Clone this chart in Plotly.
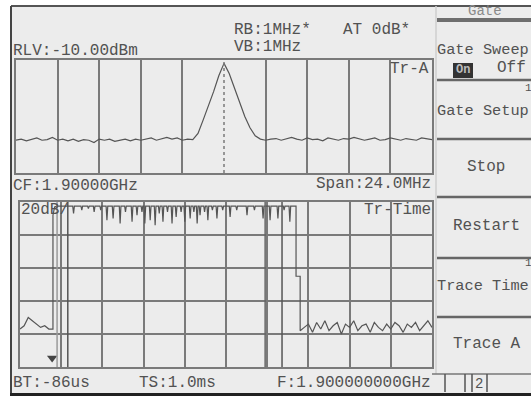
import plotly.graph_objects as go

W, H = 531, 396

# ---------------- data ----------------
# upper trace: spectrum, frequency offset from CF (MHz), span 24 MHz
freq_offset_mhz = [round(-12 + 0.3 * i, 1) for i in range(81)]
upper_level_dbm = [-81, -80, -81.5, -80, -79, -81, -80.5, -78.5, -81, -80, -81.5, -80, -82, -80.5,
                   -81, -83, -80, -81, -80, -82, -81, -80, -81.5, -80, -81, -80, -79, -81, -80,
                   -78.5, -80, -79, -81, -80,
                   -80.5, -75, -63, -51, -38, -24, -13, -22, -35, -48, -60, -70, -77, -80,
                   -81, -80, -79.5, -81, -80, -78.5, -80, -81, -79, -80.5, -80, -81.5, -79, -80,
                   -81, -79.5, -80, -78.5, -80, -81, -80, -79, -81, -80.5, -79, -80, -81, -79.5,
                   -80, -81, -79, -80, -80.5]

# lower trace: zero-span time trace (us)
pre_burst_us = [-86, -76, -66, -56, -46, -36, -26, -16, -6, -6, -2, 4]
pre_burst_dbm = [-87, -85, -80, -82, -84, -86, -85, -87, -87, -18, -13, -12.5]
burst_level_dbm = -12.5
burst_spike_us = [44, 64, 80, 94, 110, 125, 140, 157, 170, 186, 198, 210, 217, 230, 242, 252,
                  261, 272, 283, 293, 305, 314, 327, 336, 344, 351, 362, 370, 381, 392, 406,
                  424, 440, 465, 483, 504, 521, 540, 555, 569]
burst_spike_dbm = [-17, -15, -14, -16, -15, -21, -20, -23, -16, -22, -18, -16, -23, -21, -24, -17,
                   -22, -16, -23, -19, -16, -22, -20, -16, -23, -18, -16, -21, -15, -20, -15,
                   -19, -15, -18, -15, -20, -21, -20, -15, -22]
post_burst_us = [584, 584, 594, 594] + list(range(604, 915, 10))
post_burst_dbm = ([-12.5, -55, -55, -88]
                  + [-86, -84, -89, -83, -87, -82, -88, -85, -83, -90, -84, -86, -82, -88, -85,
                     -84, -89, -83, -86, -88, -84, -87, -83, -85, -89, -84, -86, -83, -88, -85,
                     -82, -86])
gate_line_us = [4, 30, 509, 550]
gate_line_col = ["#9a9a9a", "#555555", "#666666", "#555555"]
trigger_marker_us = [-8]
trigger_marker_dbm = [-104.5]

upper_x_range = [-12, 12]
upper_gridvals = [-9.6, -7.2, -4.8, -2.4, 2.4, 4.8, 7.2, 9.6]
center_offset = 0
lower_x_range = [-86, 914]
y_range = [-110, -10]

# texts: (text, x_px, y_px, anchor, size)
screen_texts = [
    ("RB:1MHz*", 232, 30, "left", 16),
    ("AT 0dB*", 341, 30, "left", 16),
    ("VB:1MHz", 232, 47, "left", 16),
    ("RLV:-10.00dBm", 11, 51, "left", 16),
    ("Tr-A", 431, 69, "right", 16),
    ("CF:1.90000GHz", 11, 186, "left", 16),
    ("Span:24.0MHz", 433, 184, "right", 16),
    ("20dB/", 19, 210, "left", 16),
    ("Tr-Time", 433, 210, "right", 16),
    ("BT:-86us", 11, 383, "left", 16),
    ("TS:1.0ms", 137, 383, "left", 16),
    ("F:1.900000000GHz", 433, 383, "right", 16),
    ("Gate Sweep", 435, 50, "left", 15.3),
    ("Off", 495, 68, "left", 16),
    ("Gate Setup", 435, 111, "left", 15.3),
    ("Stop", 465, 167, "left", 16),
    ("Restart", 451, 226, "left", 16),
    ("Trace Time", 435, 286, "left", 15.3),
    ("Trace A", 451, 344, "left", 16),
]
menu_sep_y = [80, 139, 197, 258, 317]

TXT = "#525252"
GRID = "#7a7a7a"
BG = "#ececec"
FONT = "Liberation Mono"


def X(px):
    return px / W


def Y(py):
    return 1 - py / H


# assemble time trace from the read-off pieces
lower_time_us = list(pre_burst_us)
lower_level_dbm = list(pre_burst_dbm)
for t, d in zip(burst_spike_us, burst_spike_dbm):
    lower_time_us += [t - 2, t, t + 2]
    lower_level_dbm += [burst_level_dbm, d, burst_level_dbm]
lower_time_us += post_burst_us
lower_level_dbm += post_burst_dbm

fig = go.Figure()

fig.add_trace(go.Scatter(x=freq_offset_mhz, y=upper_level_dbm, mode="lines",
                         line=dict(color="#555555", width=1.2), xaxis="x", yaxis="y",
                         hoverinfo="skip"))
fig.add_trace(go.Scatter(x=lower_time_us, y=lower_level_dbm, mode="lines",
                         line=dict(color="#555555", width=1.2), xaxis="x2", yaxis="y2",
                         hoverinfo="skip"))
fig.add_trace(go.Scatter(x=trigger_marker_us, y=trigger_marker_dbm, mode="markers",
                         marker=dict(symbol="triangle-down", size=9, color="#444444"),
                         xaxis="x2", yaxis="y2", hoverinfo="skip"))

axis_common = dict(showticklabels=False, ticks="", zeroline=False, showline=True, mirror=True,
                   linecolor=GRID, linewidth=2, gridcolor=GRID, gridwidth=1.5, fixedrange=True)

fig.update_layout(
    width=W, height=H, margin=dict(l=0, r=0, t=0, b=0),
    paper_bgcolor=BG, plot_bgcolor=BG, showlegend=False,
    xaxis=dict(domain=[X(16), X(432)], range=upper_x_range, tickmode="array",
               tickvals=upper_gridvals, showgrid=True, anchor="y", **axis_common),
    yaxis=dict(domain=[Y(173), Y(60)], range=y_range, showgrid=False, anchor="x", **axis_common),
    xaxis2=dict(domain=[X(20), X(432)], range=lower_x_range, tick0=-86, dtick=100,
                showgrid=True, anchor="y2", **axis_common),
    yaxis2=dict(domain=[Y(367), Y(202)], range=y_range, tick0=-10, dtick=20,
                showgrid=True, anchor="x2", **axis_common),
)

shapes = []
# white outer margin (left / top)
shapes.append(dict(type="rect", xref="paper", yref="paper", x0=0, x1=X(11), y0=0, y1=1,
                   fillcolor="white", line=dict(width=0), layer="below"))
shapes.append(dict(type="rect", xref="paper", yref="paper", x0=0, x1=1, y0=Y(6), y1=1,
                   fillcolor="white", line=dict(width=0), layer="below"))
# bezel lines
shapes.append(dict(type="line", xref="paper", yref="paper", x0=X(11), x1=1, y0=Y(6), y1=Y(6),
                   line=dict(color="#555555", width=2)))
shapes.append(dict(type="line", xref="paper", yref="paper", x0=X(11), x1=X(11), y0=Y(6), y1=Y(393),
                   line=dict(color="#444444", width=2)))
shapes.append(dict(type="rect", xref="paper", yref="paper", x0=X(10), x1=1, y0=0, y1=Y(393),
                   fillcolor="#222222", line=dict(width=0)))
# centre dotted line of spectrum
shapes.append(dict(type="line", xref="x", yref="y domain", x0=center_offset, x1=center_offset,
                   y0=0, y1=1, line=dict(color=GRID, width=1.5, dash="dot")))
# gate lines in time trace
for g, c in zip(gate_line_us, gate_line_col):
    shapes.append(dict(type="line", xref="x2", yref="y2 domain", x0=g, x1=g, y0=0, y1=1,
                       line=dict(color=c, width=1.5)))
# menu
shapes.append(dict(type="line", xref="paper", yref="paper", x0=X(436), x1=X(436), y0=Y(6), y1=Y(374),
                   line=dict(color="#cfcfcf", width=1.5)))
shapes.append(dict(type="line", xref="paper", yref="paper", x0=X(437), x1=1, y0=Y(20), y1=Y(20),
                   line=dict(color="#6e6e6e", width=4)))
for sy in menu_sep_y:
    shapes.append(dict(type="line", xref="paper", yref="paper", x0=X(437), x1=1, y0=Y(sy), y1=Y(sy),
                       line=dict(color="#666666", width=2.5)))
shapes.append(dict(type="rect", xref="paper", yref="paper", x0=X(453), x1=X(473), y0=Y(78), y1=Y(63),
                   fillcolor="#333333", line=dict(width=0)))
shapes.append(dict(type="line", xref="paper", yref="paper", x0=X(432), x1=1, y0=Y(374), y1=Y(374),
                   line=dict(color="#777777", width=1.5)))
for vx in [445, 465, 472, 487]:
    shapes.append(dict(type="line", xref="paper", yref="paper", x0=X(vx), x1=X(vx), y0=Y(374), y1=Y(392),
                       line=dict(color="#555555", width=1.5)))
fig.update_layout(shapes=shapes)

ann = []
for t, px, py, anc, sz in screen_texts:
    ann.append(dict(text=t, x=X(px), y=Y(py), xref="paper", yref="paper", xanchor=anc,
                    yanchor="middle", showarrow=False,
                    font=dict(family=FONT, size=sz, color=TXT)))
ann.append(dict(text="Gate", x=X(485), y=Y(11), xref="paper", yref="paper", xanchor="center",
                yanchor="middle", showarrow=False, font=dict(family=FONT, size=14, color="#8a8a8a")))
ann.append(dict(text="On", x=X(463), y=Y(70.5), xref="paper", yref="paper", xanchor="center",
                yanchor="middle", showarrow=False, font=dict(family=FONT, size=12, color="#bbbbbb", weight="bold")))
ann.append(dict(text="1", x=X(523), y=Y(88), xref="paper", yref="paper", xanchor="left",
                yanchor="middle", showarrow=False, font=dict(family=FONT, size=11, color=TXT)))
ann.append(dict(text="1", x=X(523), y=Y(263), xref="paper", yref="paper", xanchor="left",
                yanchor="middle", showarrow=False, font=dict(family=FONT, size=11, color=TXT)))
ann.append(dict(text="2", x=X(479), y=Y(384), xref="paper", yref="paper", xanchor="center",
                yanchor="middle", showarrow=False, font=dict(family=FONT, size=14, color=TXT)))
fig.update_layout(annotations=ann)

fig.write_html("out.html", config={"displayModeBar": False},
               post_script="document.body.style.margin='0';document.body.style.overflow='hidden';")
